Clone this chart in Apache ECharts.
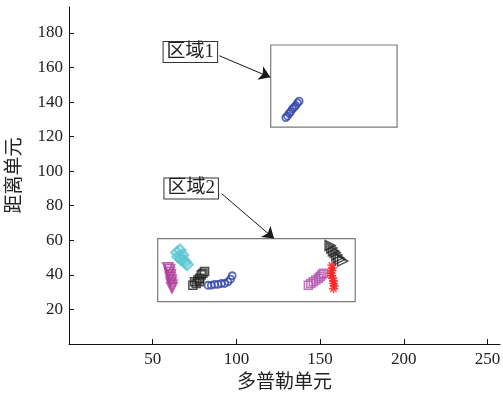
<!DOCTYPE html>
<html>
<head>
<meta charset="utf-8">
<script src="https://cdn.jsdelivr.net/npm/echarts@6/dist/echarts.min.js"></script>
<style>
  html, body { margin: 0; padding: 0; background: #fff; }
  #chart { width: 503px; height: 400px; }
</style>
</head>
<body>
<div id="chart"></div>
<script>
// Axis ticks
const xTicks = [50, 100, 150, 200, 250];
const yTicks = [20, 40, 60, 80, 100, 120, 140, 160, 180];

// Detections, [doppler cell, range cell]
const blueFar = [[129.5, 131], [130.5, 132], [131.5, 133.5], [132.5, 134.5], [133.5, 136], [134.5, 137], [135.5, 138], [136.5, 139.5], [137.5, 140.5]];
const magentaTri = [[59, 44], [60, 43], [60, 41.5], [60.5, 40], [60.5, 38.5], [61, 37], [61, 35.5], [61.5, 34], [61.5, 32.5]];
const cyanDiamond = [[64.5, 53], [66.3, 54.2], [65.2, 50.5], [67.8, 51.5], [66.9, 49], [68.5, 48.5], [69.3, 47.3], [70.5, 46]];
const blackSquare = [[74, 34], [75, 36], [76, 35], [77, 37], [78, 38], [78, 36], [79, 40], [80, 41], [81, 42]];
const blueNear = [[83, 34], [85, 34], [87, 34.5], [89, 34.5], [91, 35], [93, 35], [95, 36], [96.5, 37.5], [97.5, 39.5]];
const magentaSquare = [[143, 34], [144.5, 35], [146, 36], [147.5, 37], [149, 38], [150, 39], [151, 40], [152, 41]];
const redStar = [[157, 45.5], [157.5, 44], [157, 42.5], [156.5, 41], [157, 39.5], [157.5, 38], [158, 36.5], [158, 35], [158.5, 33.5], [158, 32]];
const blackTri = [[156, 57], [157, 55.5], [158, 54], [159, 53], [160, 51.5], [161, 50], [162, 49], [163.5, 48]];

// Annotated regions: [[x0, y0], [x1, y1]]
const regionBoxes = [[[120.5, 125.5], [196, 173]], [[53, 24.5], [171, 61]]];
const regionNames = ['区域1', '区域2'];
const labelAnchors = [[72.5, 169], [73, 90]];
const arrowFrom = [[89.8, 166.8], [91.2, 87]];
const arrowTo = [[120.3, 154.3], [122.5, 61]];

const serif = '"Liberation Serif", "Times New Roman", "Noto Sans CJK SC", serif';
const star = 'path://M0,-10L0,10M-10,0L10,0M-7,-7L7,7M-7,7L7,-7';

function markers(name, data, symbol, size, color, rotate, width) {
  return {
    name: name,
    type: 'scatter',
    data: data,
    symbol: symbol,
    symbolSize: size,
    symbolRotate: rotate || 0,
    itemStyle: { color: 'rgba(0,0,0,0)', borderColor: color, borderWidth: width || 1.5 },
    emphasis: { disabled: true },
    z: 3
  };
}

const chart = echarts.init(document.getElementById('chart'));
chart.setOption({
  animation: false,
  backgroundColor: '#fff',
  grid: { left: 69, right: 3, top: 7, bottom: 56, containLabel: false, outerBoundsMode: 'none' },
  xAxis: {
    type: 'value', min: 0, max: 257.5,
    name: '多普勒单元', nameLocation: 'middle', nameGap: 30,
    nameTextStyle: { fontFamily: serif, fontSize: 19, color: '#222' },
    axisLine: { lineStyle: { color: '#111', width: 1 } },
    axisTick: { inside: true, length: 5, customValues: xTicks, lineStyle: { color: '#111' } },
    axisLabel: { customValues: xTicks, margin: 7, fontFamily: serif, fontSize: 17, color: '#222' },
    splitLine: { show: false }
  },
  yAxis: {
    type: 'value', min: 0, max: 195,
    name: '距离单元', nameLocation: 'middle', nameGap: 44, nameRotate: 90,
    nameTextStyle: { fontFamily: serif, fontSize: 19, color: '#222' },
    axisLine: { show: true, lineStyle: { color: '#111', width: 1 } },
    axisTick: { show: true, inside: true, length: 5, customValues: yTicks, lineStyle: { color: '#111' } },
    axisLabel: { customValues: yTicks, margin: 6, fontFamily: serif, fontSize: 17, color: '#222' },
    splitLine: { show: false }
  },
  series: [
    {
      name: 'regions',
      type: 'scatter',
      data: [],
      silent: true,
      z: 2,
      markArea: {
        silent: true,
        itemStyle: { color: 'rgba(0,0,0,0)', borderColor: '#7a7a7a', borderWidth: 1.2 },
        label: { show: false },
        data: regionBoxes.map(b => [{ coord: b[0] }, { coord: b[1] }])
      },
      markLine: {
        silent: true,
        symbol: ['none', 'arrow'],
        symbolSize: 11,
        lineStyle: { color: '#1a1a1a', width: 1, type: 'solid' },
        itemStyle: { color: '#1a1a1a' },
        label: { show: false },
        emphasis: { disabled: true },
        data: arrowFrom.map((p, i) => [{ coord: p }, { coord: arrowTo[i] }])
      },
      markPoint: {
        silent: true,
        symbol: 'rect',
        symbolSize: 0,
        label: {
          show: true,
          formatter: p => p.name,
          fontFamily: serif,
          fontSize: 19,
          color: '#222',
          backgroundColor: '#fff',
          borderColor: '#333',
          borderWidth: 1,
          padding: [1, 3, 0, 3]
        },
        data: labelAnchors.map((p, i) => ({ name: regionNames[i], coord: p }))
      }
    },
    markers('blueFar', blueFar, 'circle', 7, '#3344aa', 0, 1.8),
    markers('magentaTri', magentaTri, 'triangle', 10, '#b03d9c', 180, 1.8),
    markers('cyanDiamond', cyanDiamond, 'diamond', 11, '#5cc6d2', 0, 2.5),
    markers('blackSquare', blackSquare, 'rect', 8, '#222'),
    markers('blueNear', blueNear, 'circle', 7, '#3344aa', 0, 1.8),
    markers('magentaSquare', magentaSquare, 'rect', 8, '#b050b0'),
    markers('redStar', redStar, star, 9, '#ff2222'),
    markers('blackTri', blackTri, 'triangle', 10, '#222', -90)
  ]
});
</script>
</body>
</html>
